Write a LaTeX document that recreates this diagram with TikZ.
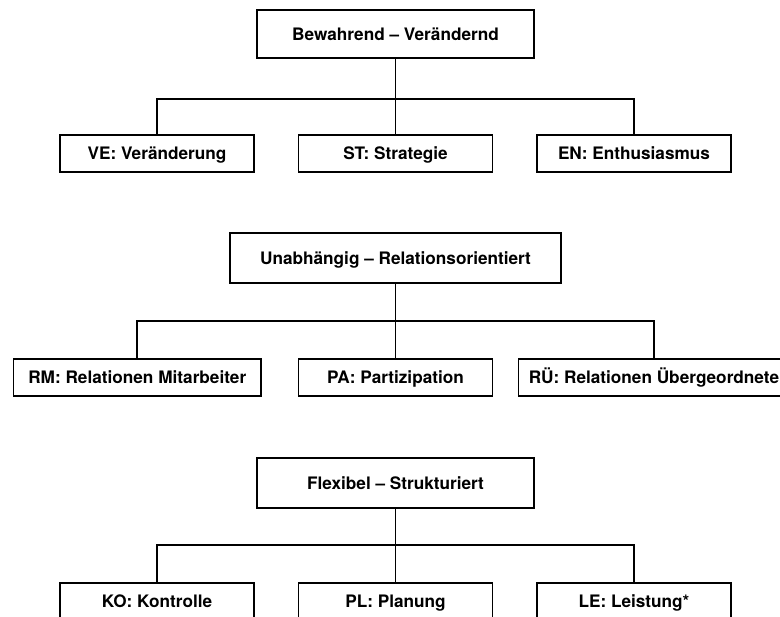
\documentclass[tikz,border=0pt]{standalone}
\usepackage{fontspec}
\setmainfont{TeX Gyre Heros}
\begin{document}
\begin{tikzpicture}[x=1pt,y=-1pt,
  every node/.style={draw=black, line width=1.8pt, inner sep=0pt, align=center,
    text height=12.3pt, text depth=0pt,
    font=\fontsize{17.2}{19}\selectfont\bfseries},
  headbox/.style={minimum height=48pt},
  childbox/.style={minimum height=37pt, minimum width=194pt},
  conn/.style={line width=1.8pt, line cap=rect}]
\useasboundingbox (0,0) rectangle (780,617);
\clip (0,0) rectangle (780,617);
% --- section 1
\node[headbox, minimum width=277pt] (T1) at (395.5,34) {Bewahrend -- Verändernd};
\node[childbox] (VE) at (157,153.5) {VE: Veränderung};
\node[childbox] (ST) at (395.5,153.5) {ST: Strategie};
\node[childbox] (EN) at (634,153.5) {EN: Enthusiasmus};
\coordinate (b1) at (395.5,99);
\draw[conn] (T1.south) -- (b1);
\draw[conn] (VE.north) |- (b1) -| (EN.north);
\draw[conn] (b1) -- (ST.north);
% --- section 2
\node[headbox, minimum width=331pt, minimum height=50pt] (T2) at (395.5,258) {Unabhängig -- Relationsorientiert};
\node[childbox, minimum width=247.5pt] (RM) at (137.25,377.5) {RM: Relationen Mitarbeiter};
\node[childbox] (PA) at (395.5,377.5) {PA: Partizipation};
\node[childbox, minimum width=271pt] (RU) at (654,377.5) {RÜ: Relationen Übergeordnete};
\coordinate (b2) at (395.5,321);
\draw[conn] (T2.south) -- (b2);
\draw[conn] (RM.north) |- (b2) -| (RU.north);
\draw[conn] (b2) -- (PA.north);
% --- section 3
\node[headbox, minimum width=277pt, minimum height=50pt] (T3) at (395.5,483) {Flexibel -- Strukturiert};
\node[childbox] (KO) at (157,601.5) {KO: Kontrolle};
\node[childbox] (PL) at (395.5,601.5) {PL: Planung};
\node[childbox] (LE) at (634,601.5) {LE: Leistung*};
\coordinate (b3) at (395.5,545);
\draw[conn] (T3.south) -- (b3);
\draw[conn] (KO.north) |- (b3) -| (LE.north);
\draw[conn] (b3) -- (PL.north);
\end{tikzpicture}
\end{document}
